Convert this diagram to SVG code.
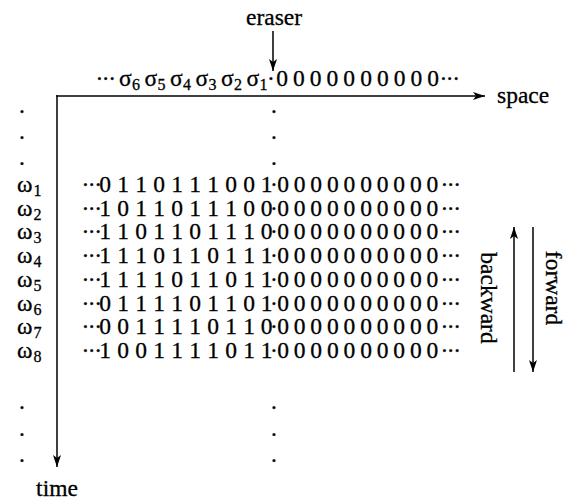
<svg xmlns="http://www.w3.org/2000/svg" width="567" height="501" viewBox="0 0 567 501">
<style>
text{font-family:"Liberation Serif","Times New Roman",serif;font-size:23.5px;fill:#000;stroke:#000;stroke-width:0.3px}
.m{text-anchor:middle}
.sub{font-size:16px}
.ell{letter-spacing:-1.5px}
.ln{stroke:#000;stroke-width:1.5;fill:none}
</style>
<defs>
<marker id="ah" markerWidth="13" markerHeight="8" refX="12" refY="4" orient="auto" markerUnits="userSpaceOnUse">
<path d="M0,0 L12,4 L0,8 L3,4 z" fill="#000"/>
</marker>
</defs>
<g id="connectors">
<line class="ln" x1="273" y1="31" x2="273" y2="71" marker-end="url(#ah)"/>
<line class="ln" x1="56" y1="96" x2="485" y2="96" marker-end="url(#ah)"/>
<line class="ln" x1="57" y1="95.3" x2="57" y2="467" marker-end="url(#ah)"/>
<line class="ln" x1="514" y1="372" x2="514" y2="227" marker-end="url(#ah)"/>
<line class="ln" x1="533" y1="227" x2="533" y2="372" marker-end="url(#ah)"/>
</g>
<g id="labels">
<text class="m" x="274" y="25">eraser</text>
<text x="497" y="103">space</text>
<text class="m" x="57" y="496">time</text>
<text class="m" transform="translate(481,298) rotate(90)">backward</text>
<text class="m" transform="translate(546,288) rotate(90)">forward</text>
</g>
<g id="tape">
<text class="m ell" x="105" y="86">···</text>
<text x="119" y="86">σ</text><text class="sub" x="132" y="90">6</text>
<text x="144.5" y="86">σ</text><text class="sub" x="157.5" y="90">5</text>
<text x="170" y="86">σ</text><text class="sub" x="183" y="90">4</text>
<text x="195.5" y="86">σ</text><text class="sub" x="208.5" y="90">3</text>
<text x="221" y="86">σ</text><text class="sub" x="234" y="90">2</text>
<text x="246.5" y="86">σ</text><text class="sub" x="259.5" y="90">1</text>
<text class="m" y="86"><tspan x="271 282 298.8 315.6 332.4 349.2 366 382.8 399.6 416.4 433.2">·0000000000</tspan><tspan class="ell" x="449">···</tspan></text>
</g>
<g id="dots">
<text class="m" x="22" y="113">.</text><text class="m" x="22" y="139">.</text><text class="m" x="22" y="165">.</text>
<text class="m" x="274" y="113">.</text><text class="m" x="274" y="139">.</text><text class="m" x="274" y="165">.</text>
<text class="m" x="22" y="409">.</text><text class="m" x="22" y="436">.</text><text class="m" x="22" y="462">.</text>
<text class="m" x="274" y="409">.</text><text class="m" x="274" y="436">.</text><text class="m" x="274" y="462">.</text>
</g>
<g id="omegas">
<text x="17" y="192">ω</text><text class="sub" x="33.5" y="196">1</text>
<text x="17" y="215.7">ω</text><text class="sub" x="33.5" y="219.7">2</text>
<text x="17" y="239.4">ω</text><text class="sub" x="33.5" y="243.4">3</text>
<text x="17" y="263.1">ω</text><text class="sub" x="33.5" y="267.1">4</text>
<text x="17" y="286.8">ω</text><text class="sub" x="33.5" y="290.8">5</text>
<text x="17" y="310.5">ω</text><text class="sub" x="33.5" y="314.5">6</text>
<text x="17" y="334.2">ω</text><text class="sub" x="33.5" y="338.2">7</text>
<text x="17" y="357.9">ω</text><text class="sub" x="33.5" y="361.9">8</text>
</g>
<g id="rows">
<text class="m" y="192"><tspan class="ell" x="91">···</tspan><tspan x="105 123 141 159 177 195 213 231 249 266.5 274 283 299.6 316.2 332.8 349.4 366 382.6 399.2 415.8 432.4">0110111001·0000000000</tspan><tspan class="ell" x="450">···</tspan></text>
<text class="m" y="215.7"><tspan class="ell" x="91">···</tspan><tspan x="105 123 141 159 177 195 213 231 249 266.5 274 283 299.6 316.2 332.8 349.4 366 382.6 399.2 415.8 432.4">1011011100·0000000000</tspan><tspan class="ell" x="450">···</tspan></text>
<text class="m" y="239.4"><tspan class="ell" x="91">···</tspan><tspan x="105 123 141 159 177 195 213 231 249 266.5 274 283 299.6 316.2 332.8 349.4 366 382.6 399.2 415.8 432.4">1101101110·0000000000</tspan><tspan class="ell" x="450">···</tspan></text>
<text class="m" y="263.1"><tspan class="ell" x="91">···</tspan><tspan x="105 123 141 159 177 195 213 231 249 266.5 274 283 299.6 316.2 332.8 349.4 366 382.6 399.2 415.8 432.4">1110110111·0000000000</tspan><tspan class="ell" x="450">···</tspan></text>
<text class="m" y="286.8"><tspan class="ell" x="91">···</tspan><tspan x="105 123 141 159 177 195 213 231 249 266.5 274 283 299.6 316.2 332.8 349.4 366 382.6 399.2 415.8 432.4">1111011011·0000000000</tspan><tspan class="ell" x="450">···</tspan></text>
<text class="m" y="310.5"><tspan class="ell" x="91">···</tspan><tspan x="105 123 141 159 177 195 213 231 249 266.5 274 283 299.6 316.2 332.8 349.4 366 382.6 399.2 415.8 432.4">0111101101·0000000000</tspan><tspan class="ell" x="450">···</tspan></text>
<text class="m" y="334.2"><tspan class="ell" x="91">···</tspan><tspan x="105 123 141 159 177 195 213 231 249 266.5 274 283 299.6 316.2 332.8 349.4 366 382.6 399.2 415.8 432.4">0011110110·0000000000</tspan><tspan class="ell" x="450">···</tspan></text>
<text class="m" y="357.9"><tspan class="ell" x="91">···</tspan><tspan x="105 123 141 159 177 195 213 231 249 266.5 274 283 299.6 316.2 332.8 349.4 366 382.6 399.2 415.8 432.4">1001111011·0000000000</tspan><tspan class="ell" x="450">···</tspan></text>
</g>
</svg>
